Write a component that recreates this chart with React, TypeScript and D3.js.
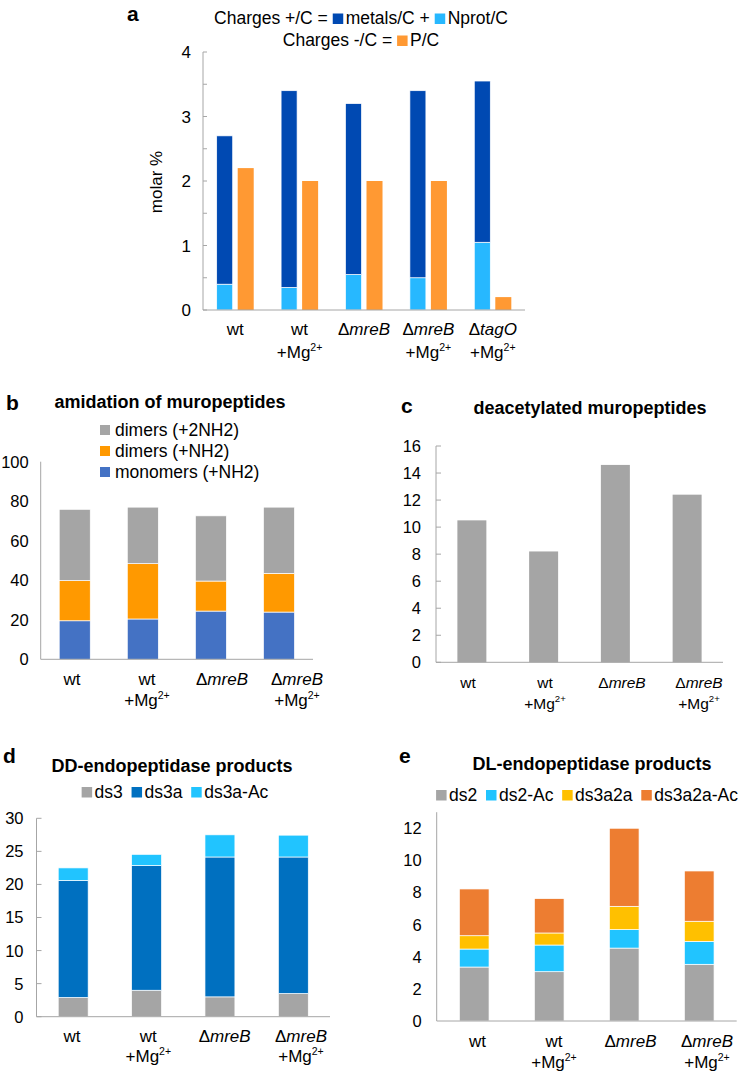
import React, { useEffect, useRef } from "react";
import * as d3 from "d3";

const FONT = "'Liberation Sans', Arial, sans-serif";

// ---------- Panel a ----------
const catsA = ["wt", "wt+Mg", "mreB", "mreB+Mg", "tagO+Mg"];
const nprotA = [0.4, 0.35, 0.55, 0.5, 1.05];
const metalsA = [2.3, 3.05, 2.65, 2.9, 2.5];
const phosA = [2.2, 2.0, 2.0, 2.0, 0.2];
const ticksA = [0, 1, 2, 3, 4];
const minorTicksA = [0, 0.5, 1, 1.5, 2, 2.5, 3, 3.5, 4];

// ---------- Panel b ----------
const cats4 = ["wt", "wt+Mg", "mreB", "mreB+Mg"];
const monomersB = [19.5, 20.4, 24.4, 23.9];
const dimersNH2B = [20.3, 28.0, 15.2, 19.6];
const dimers2NH2B = [36.1, 28.6, 33.0, 33.5];
const ticksB = [0, 20, 40, 60, 80, 100];

// ---------- Panel c ----------
const deacetylC = [10.5, 8.2, 14.6, 12.4];
const ticksC = [0, 2, 4, 6, 8, 10, 12, 14, 16];

// ---------- Panel d ----------
const ds3D = [2.9, 4.0, 3.0, 3.5];
const ds3aD = [17.7, 18.85, 21.15, 20.65];
const ds3aAcD = [1.9, 1.7, 3.35, 3.3];
const ticksD = [0, 5, 10, 15, 20, 25, 30];

// ---------- Panel e ----------
const ds2E = [3.36, 3.07, 4.54, 3.53];
const ds2AcE = [1.12, 1.66, 1.15, 1.43];
const ds3a2aE = [0.83, 0.75, 1.45, 1.25];
const ds3a2aAcE = [2.91, 2.14, 4.86, 3.13];
const ticksE = [0, 2, 4, 6, 8, 10, 12];

const CAT_INFO: Record<string, { l1: [string, boolean][]; mg: boolean }> = {
  wt: { l1: [["wt", false]], mg: false },
  "wt+Mg": { l1: [["wt", false]], mg: true },
  mreB: { l1: [["\u0394", false], ["mreB", true]], mg: false },
  "mreB+Mg": { l1: [["\u0394", false], ["mreB", true]], mg: true },
  "tagO+Mg": { l1: [["\u0394", false], ["tagO", true]], mg: true },
};

const AXIS = "#A6A6A6";

type Series = { name: string; values: number[]; color: string };

function catLabel(g: any, cat: string, x: number, y1: number, y2: number, fs: number) {
  const info = CAT_INFO[cat];
  const t = g.append("text").attr("x", x).attr("y", y1).attr("text-anchor", "middle").attr("font-size", fs);
  info.l1.forEach(([s, it]) => t.append("tspan").text(s).attr("font-style", it ? "italic" : "normal"));
  if (info.mg) {
    const t2 = g.append("text").attr("x", x).attr("y", y2).attr("text-anchor", "middle").attr("font-size", fs);
    t2.append("tspan").text("+Mg");
    t2.append("tspan").text("2+").attr("font-size", fs * 0.62).attr("dy", -fs * 0.42);
  }
}

type LegItem = { text?: string; color?: string; gap?: number };

function inlineLegend(g: any, items: LegItem[], x: number, baseline: number, fs: number, anchor: "middle" | "start") {
  const grp = g.append("g");
  let cx = 0;
  const sw = fs * 0.6;
  items.forEach((it) => {
    if (it.color) {
      grp.append("rect").attr("x", cx).attr("y", baseline - fs * 0.3 - sw / 2).attr("width", sw).attr("height", sw).attr("fill", it.color);
      cx += sw + fs * 0.14;
    } else if (it.text) {
      const t = grp.append("text").attr("x", cx).attr("y", baseline).attr("font-size", fs).text(it.text);
      cx += (t.node() as SVGTextElement).getComputedTextLength();
    } else if (it.gap) {
      cx += it.gap * fs;
    }
  });
  const shift = anchor === "middle" ? x - cx / 2 : x;
  grp.attr("transform", `translate(${shift},0)`);
}

function stackedBars(g: any, x: d3.ScaleBand<string>, y: d3.ScaleLinear<number, number>, cats: string[], series: Series[], sep = true) {
  const rows = cats.map((c, i) => {
    const r: any = { cat: c };
    series.forEach((s) => (r[s.name] = s.values[i]));
    return r;
  });
  const stack = d3.stack<any>().keys(series.map((s) => s.name))(rows);
  stack.forEach((layer, li) => {
    g.append("g")
      .selectAll("rect")
      .data(layer)
      .join("rect")
      .attr("x", (d: any) => x(d.data.cat)!)
      .attr("width", x.bandwidth())
      .attr("y", (d: any) => y(d[1]))
      .attr("height", (d: any) => y(d[0]) - y(d[1]))
      .attr("fill", series[li].color)
      .attr("stroke", sep ? "#ffffff" : "none")
      .attr("stroke-width", sep ? 0.7 : 0);
  });
}

function yAxis(g: any, y: d3.ScaleLinear<number, number>, x0: number, labels: number[], fs: number, gap: number, tickVals: number[] | null, tickLen: number) {
  const [lo, hi] = y.domain();
  g.append("line").attr("x1", x0).attr("x2", x0).attr("y1", y(lo)).attr("y2", y(hi)).attr("stroke", AXIS).attr("stroke-width", 1);
  if (tickVals) {
    g.append("g")
      .selectAll("line")
      .data(tickVals)
      .join("line")
      .attr("x1", x0)
      .attr("x2", x0 + tickLen)
      .attr("y1", (d: number) => y(d))
      .attr("y2", (d: number) => y(d))
      .attr("stroke", AXIS);
  }
  g.append("g")
    .selectAll("text")
    .data(labels)
    .join("text")
    .attr("x", x0 - gap)
    .attr("y", (d: number) => y(d))
    .attr("dy", "0.36em")
    .attr("text-anchor", "end")
    .attr("font-size", fs)
    .text((d: number) => String(d));
}

function xAxisLine(g: any, x: d3.ScaleBand<string>, y0: number) {
  const [a, b] = x.range();
  g.append("line").attr("x1", a).attr("x2", b).attr("y1", y0).attr("y2", y0).attr("stroke", AXIS).attr("stroke-width", 1);
}

function bandScale(cats: string[], range: [number, number], pad: number) {
  return d3.scaleBand<string>().domain(cats).range(range).paddingInner(pad).paddingOuter(pad / 2);
}

export default function App() {
  const ref = useRef<SVGSVGElement>(null);

  useEffect(() => {
    document.body.style.margin = "0";
    const svg = d3.select(ref.current!);
    svg.selectAll("*").remove();
    const root = svg.append("g").attr("font-family", FONT).attr("fill", "#000");

    const letter = (t: string, x: number, y: number) =>
      root.append("text").attr("x", x).attr("y", y).attr("font-size", 21).attr("font-weight", "bold").text(t);
    const title = (t: string, x: number, y: number) =>
      root.append("text").attr("x", x).attr("y", y).attr("font-size", 18).attr("font-weight", "bold").attr("text-anchor", "middle").text(t);

    // ================= Panel a =================
    {
      const g = root.append("g");
      const xA = bandScale(catsA, [203, 525], 0.425);
      const yA = d3.scaleLinear().domain([0, 4]).range([310, 52]);
      const inner = d3.scaleBand<string>().domain(["pos", "neg"]).range([0, xA.bandwidth()]).paddingInner(0.238);
      const rows = catsA.map((c, i) => ({ cat: c, nprot: nprotA[i], metals: metalsA[i] }));
      const stack = d3.stack<any>().keys(["nprot", "metals"])(rows);
      const colsA = ["#27B8FF", "#0049B2"];
      stack.forEach((layer, li) => {
        g.append("g")
          .selectAll("rect")
          .data(layer)
          .join("rect")
          .attr("x", (d: any) => xA(d.data.cat)! + inner("pos")!)
          .attr("width", inner.bandwidth())
          .attr("y", (d: any) => yA(d[1]))
          .attr("height", (d: any) => yA(d[0]) - yA(d[1]))
          .attr("fill", colsA[li])
          .attr("stroke", "#fff")
          .attr("stroke-width", 0.7);
      });
      g.append("g")
        .selectAll("rect")
        .data(catsA)
        .join("rect")
        .attr("x", (c: string) => xA(c)! + inner("neg")!)
        .attr("width", inner.bandwidth())
        .attr("y", (_: string, i: number) => yA(phosA[i]))
        .attr("height", (_: string, i: number) => yA(0) - yA(phosA[i]))
        .attr("fill", "#FF9933");
      yAxis(g, yA, 203, ticksA, 17, 12, minorTicksA, 4);
      xAxisLine(g, xA, yA(0));
      catsA.forEach((c) => catLabel(g, c, xA(c)! + xA.bandwidth() / 2, 335, 358, 17));
      g.append("text")
        .attr("transform", `translate(162,182) rotate(-90)`)
        .attr("text-anchor", "middle")
        .attr("font-size", 17)
        .text("molar %");
      inlineLegend(
        g,
        [
          { text: "Charges +/C =" },
          { gap: 0.28 },
          { color: "#0049B2" },
          { text: "metals/C +" },
          { gap: 0.28 },
          { color: "#27B8FF" },
          { text: "Nprot/C" },
        ],
        361,
        24,
        17.5,
        "middle"
      );
      inlineLegend(g, [{ text: "Charges -/C =" }, { gap: 0.28 }, { color: "#FF9933" }, { text: "P/C" }], 361, 46, 17.5, "middle");
      letter("a", 127, 21);
    }

    // ================= Panel b =================
    {
      const g = root.append("g");
      const xB = bandScale(cats4, [40.7, 313], 0.544);
      const yB = d3.scaleLinear().domain([0, 100]).range([659.3, 461.7]);
      stackedBars(g, xB, yB, cats4, [
        { name: "mono", values: monomersB, color: "#4472C4" },
        { name: "dNH2", values: dimersNH2B, color: "#FF9900" },
        { name: "d2NH2", values: dimers2NH2B, color: "#A5A5A5" },
      ]);
      yAxis(g, yB, 40.7, ticksB, 16.5, 12, null, 0);
      xAxisLine(g, xB, yB(0));
      const lb = d3.scalePoint<string>().domain(cats4).range([72, 297]);
      cats4.forEach((c) => catLabel(g, c, lb(c)!, 685, 706, 17));
      const leg = [
        { t: "dimers (+2NH2)", c: "#A5A5A5" },
        { t: "dimers (+NH2)", c: "#FF9900" },
        { t: "monomers (+NH2)", c: "#4472C4" },
      ];
      leg.forEach((l, i) => {
        const base = 435.5 + i * 21;
        g.append("rect").attr("x", 100).attr("y", base - 10.5).attr("width", 10).attr("height", 10).attr("fill", l.c);
        g.append("text").attr("x", 115).attr("y", base).attr("font-size", 17.5).text(l.t);
      });
      letter("b", 6, 410);
      title("amidation of muropeptides", 170, 408);
    }

    // ================= Panel c =================
    {
      const g = root.append("g");
      const xC = bandScale(cats4, [436, 723], 0.596);
      const yC = d3.scaleLinear().domain([0, 16]).range([662.3, 446]);
      stackedBars(g, xC, yC, cats4, [{ name: "deac", values: deacetylC, color: "#A5A5A5" }], false);
      yAxis(g, yC, 436, ticksC, 16.5, 15, ticksC, 5);
      xAxisLine(g, xC, yC(0));
      const lc = d3.scalePoint<string>().domain(cats4).range([468, 699]);
      cats4.forEach((c) => catLabel(g, c, lc(c)!, 688, 709, 15.5));
      letter("c", 401, 413);
      title("deacetylated muropeptides", 590, 414);
    }

    // ================= Panel d =================
    {
      const g = root.append("g");
      const xD = bandScale(cats4, [36.5, 330], 0.592);
      const yD = d3.scaleLinear().domain([0, 30]).range([1016.7, 818.3]);
      stackedBars(g, xD, yD, cats4, [
        { name: "ds3", values: ds3D, color: "#A5A5A5" },
        { name: "ds3a", values: ds3aD, color: "#0070C0" },
        { name: "ds3aAc", values: ds3aAcD, color: "#21C4FF" },
      ]);
      yAxis(g, yD, 36.5, ticksD, 16.5, 13, ticksD, 5);
      xAxisLine(g, xD, yD(0));
      const ld = d3.scalePoint<string>().domain(cats4).range([72, 301]);
      cats4.forEach((c) => catLabel(g, c, ld(c)!, 1041.5, 1062, 17));
      inlineLegend(
        g,
        [
          { color: "#A5A5A5" },
          { text: "ds3" },
          { gap: 0.5 },
          { color: "#0070C0" },
          { text: "ds3a" },
          { gap: 0.5 },
          { color: "#21C4FF" },
          { text: "ds3a-Ac" },
        ],
        175,
        797.5,
        17.5,
        "middle"
      );
      letter("d", 3, 763);
      title("DD-endopeptidase products", 172, 771.5);
    }

    // ================= Panel e =================
    {
      const g = root.append("g");
      const xE = bandScale(cats4, [436.7, 736.7], 0.604);
      const yE = d3.scaleLinear().domain([0, 13]).range([1021, 812.2]);
      stackedBars(g, xE, yE, cats4, [
        { name: "ds2", values: ds2E, color: "#A5A5A5" },
        { name: "ds2Ac", values: ds2AcE, color: "#21C4FF" },
        { name: "ds3a2a", values: ds3a2aE, color: "#FFC000" },
        { name: "ds3a2aAc", values: ds3a2aAcE, color: "#ED7D31" },
      ]);
      yAxis(g, yE, 436.7, ticksE, 16.5, 15, null, 0);
      xAxisLine(g, xE, yE(0));
      const le = d3.scalePoint<string>().domain(cats4).range([477.5, 707]);
      cats4.forEach((c) => catLabel(g, c, le(c)!, 1046.5, 1068, 17));
      inlineLegend(
        g,
        [
          { color: "#A5A5A5" },
          { text: "ds2" },
          { gap: 0.5 },
          { color: "#21C4FF" },
          { text: "ds2-Ac" },
          { gap: 0.5 },
          { color: "#FFC000" },
          { text: "ds3a2a" },
          { gap: 0.5 },
          { color: "#ED7D31" },
          { text: "ds3a2a-Ac" },
        ],
        587,
        800.5,
        17.5,
        "middle"
      );
      letter("e", 399, 763);
      title("DL-endopeptidase products", 592, 770);
    }
  }, []);

  return <svg ref={ref} width={751} height={1077} style={{ display: "block", background: "#fff" }} />;
}
